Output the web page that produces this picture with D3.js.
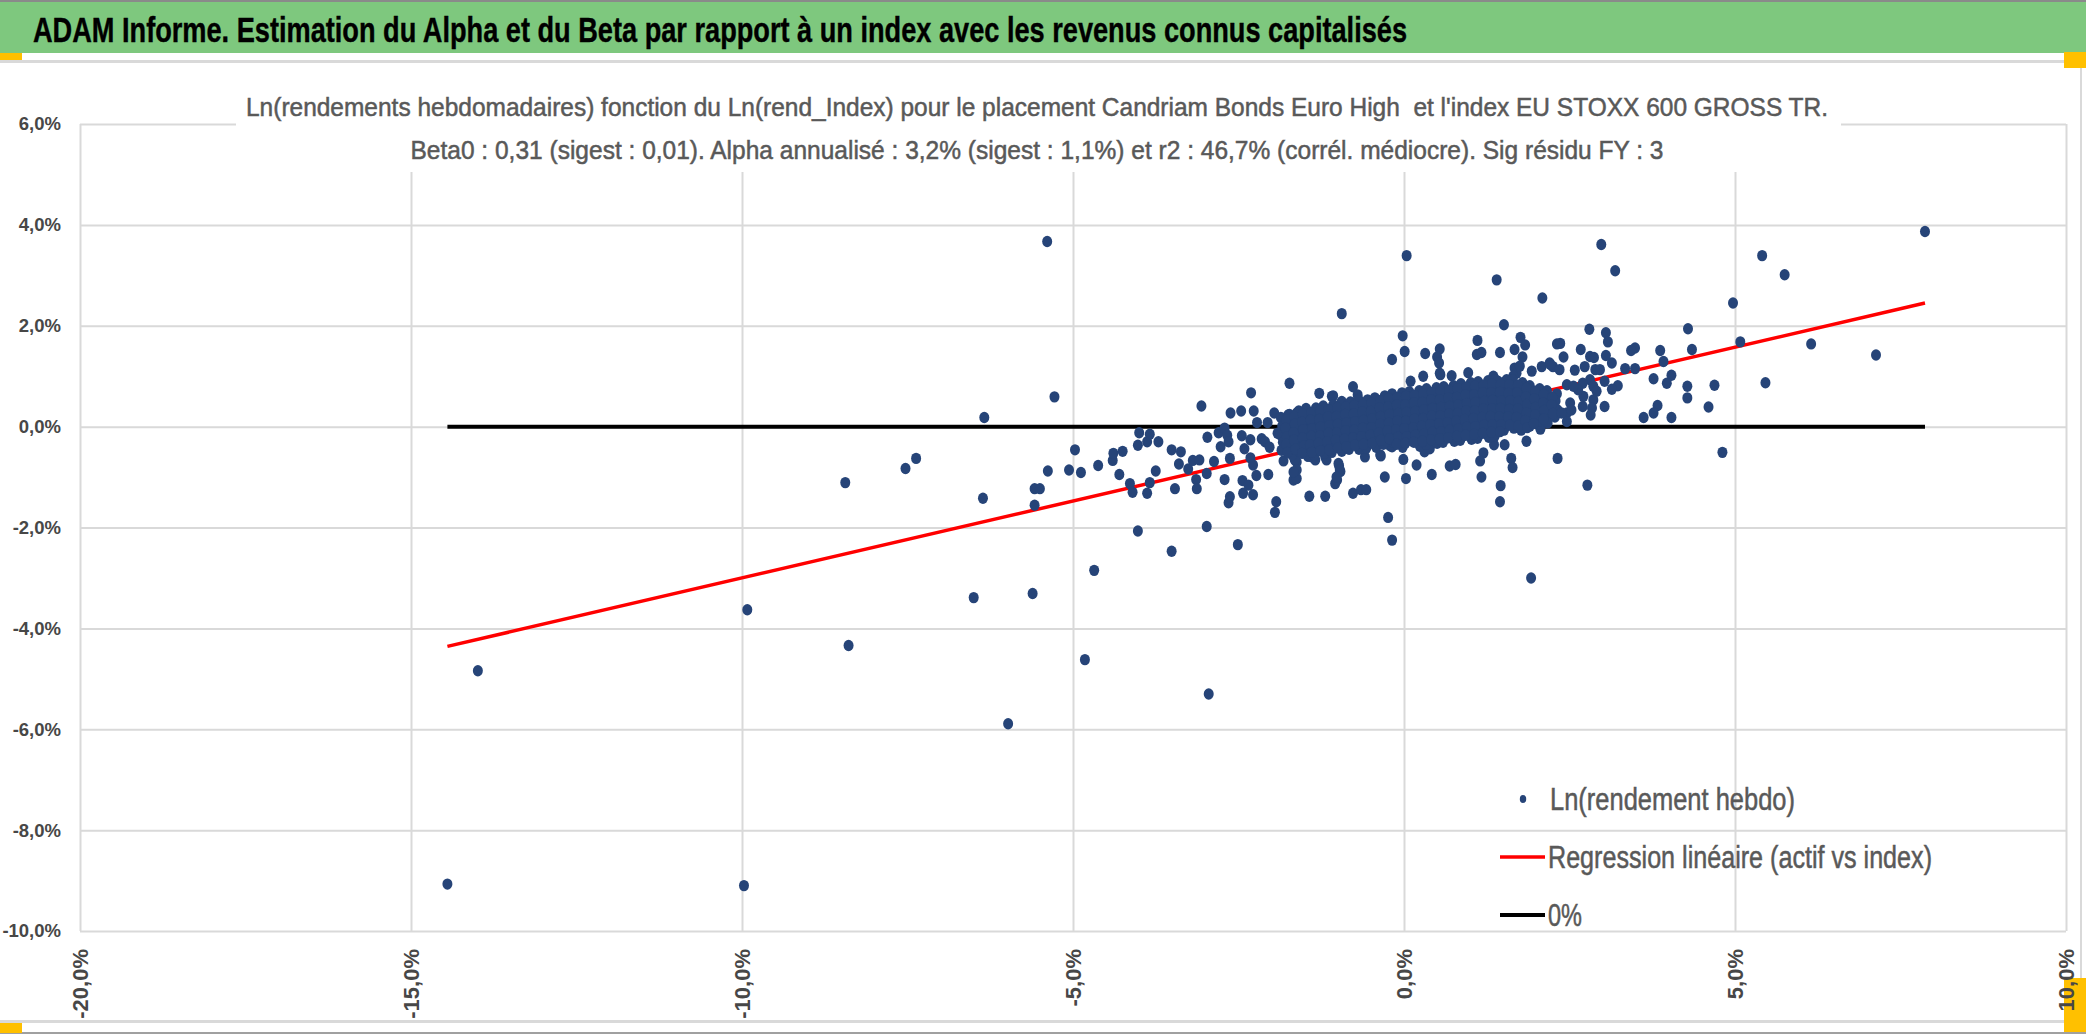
<!DOCTYPE html>
<html>
<head>
<meta charset="utf-8">
<script src="https://cdn.jsdelivr.net/npm/d3@7"></script>
<style>
  body { margin: 0; background: #fff; }
  svg { display: block; }
  text { white-space: pre; }
</style>
</head>
<body>
<div id="d3-container"></div>
<script>
// Texts
const headerTitle = "ADAM Informe. Estimation du Alpha et du Beta par rapport à un index avec les revenus connus capitalisés";
const chartTitle = [
    "Ln(rendements hebdomadaires) fonction du Ln(rend_Index) pour le placement Candriam Bonds Euro High  et l'index EU STOXX 600 GROSS TR.",
    "Beta0 : 0,31 (sigest : 0,01). Alpha annualisé : 3,2% (sigest : 1,1%) et r2 : 46,7% (corrél. médiocre). Sig résidu FY : 3"
];
const legendLabels = ["Ln(rendement hebdo)", "Regression linéaire (actif vs index)", "0%"];

// Axis ticks (percent)
const xTicks = [-20, -15, -10, -5, 0, 5, 10];
const yTicks = [-10, -8, -6, -4, -2, 0, 2, 4, 6];

// Regression (percent units)
const betaSlope = 0.305;
const alphaWeekly = 0.05;

// Weekly points [Ln(rend_Index) %, Ln(rendement) %]
const farPoints = [
    [-14.45,-9.07],[-13.99,-4.84],[-9.97,-9.10],[-9.92,-3.63],[-8.44,-1.11],[-8.39,-4.34],
    [-7.53,-0.83],[-7.37,-0.63],[-6.50,-3.39],[-6.36,-1.42],[-6.34,0.18],[-5.98,-5.89],
    [-5.61,-3.31],[-5.58,-1.23],[-5.50,-1.23],[-5.58,-1.56],[-5.39,3.67],[-5.38,-0.88],
    [-5.28,0.59],[-5.06,-0.86],[-4.97,-0.46],[-4.88,-0.91],[-4.82,-4.62],[-4.68,-2.85],
    [-4.62,-0.77],[-4.40,-0.67],[-4.39,-0.53],[-4.30,-0.95],[-4.25,-0.49],[-4.14,-1.13],
    [-4.10,-1.30],[-4.02,-0.37],[-4.02,-2.07],[-4.00,-0.12],[-3.88,-0.30],[-3.84,-0.15],
    [-3.71,-0.30],[-3.88,-1.32],[-3.84,-1.11],[-3.75,-0.88],[-3.51,-0.46],[-3.51,-2.47],
    [-3.46,-1.23],[-3.40,-0.74],[-3.37,-0.50],[-3.26,-0.84],[-3.19,-0.67],[-3.14,-1.05],
    [-3.13,-1.23],[-3.09,-0.66],[-3.06,0.41],[-2.98,-1.98],[-2.98,-0.93],[-2.97,-0.21],
    [-2.95,-5.30],[-2.87,-0.69],[-2.80,-0.12],[-2.77,-0.40],[-2.71,-0.03],[-2.71,-1.05],
    [-2.67,-0.17],[-2.65,-0.30],[-2.65,-1.51],[-2.63,-0.63],[-2.63,-1.39],[-2.62,0.27],
    [-2.51,-2.34],[-2.46,0.31],[-2.45,-0.18],[-2.44,-1.07],[-2.43,-1.32],[-2.41,-0.44],
    [-2.35,-1.16],[-2.32,-0.26],[-2.32,-0.62],[-2.31,0.67],[-2.28,-0.76],[-2.28,-1.35],
    [-2.27,0.31],[-2.23,-0.97],[-2.22,0.08],[-2.15,-0.24],[-2.10,-0.30],[-2.06,0.08],
    [-2.05,-0.95],[-2.03,-0.41],[-1.96,0.27],[-1.95,-1.70],[-1.93,-1.49],[-1.91,-0.13]
];

const midPoints = [
    [0.04,3.39],[1.40,2.91],[2.09,2.55],[-0.94,2.24],[1.51,2.02],[-0.02,1.80],[0.01,1.49],
    [1.11,1.71],[1.76,1.77],[1.83,1.62],[2.31,1.64],[2.20,1.26],[2.25,1.19],[2.35,1.13],
    [2.08,1.19],[2.32,-0.63],[1.92,-3.00],[2.06,-0.05],[1.85,-0.29],[1.52,-0.36],[1.36,-0.36],
    [1.20,-0.52],[1.15,-0.68],[1.17,-1.00],[1.46,-1.17],[1.45,-1.49],[1.62,-0.63],[1.64,-0.81],
    [0.69,-0.78],[0.78,-0.75],[0.42,-0.95],[0.19,-0.76],[0.31,-0.50],[0.39,-0.44],[-0.01,-0.65],
    [0.03,-1.03],[-0.18,-0.40],[-0.29,-1.00],[-0.24,-1.80],[-0.18,-2.25],[-0.77,-1.32],
    [-0.65,-1.25],[-0.57,-1.25],[-0.35,-0.58],[-0.59,-0.60],[-1.04,-1.13],[-1.01,-1.06],
    [-0.98,-0.78],[-0.96,-0.89],[-1.19,-1.38],[-1.43,-1.38],[-1.67,-1.06],[-1.62,-1.03],
    [-1.62,-0.70],[-1.82,-0.68],[-1.73,0.86],[-1.28,0.66],[-0.77,0.79],[-1.09,0.60],
    [-0.70,0.63],[-0.18,1.33],[0.10,0.90],[0.29,1.00],[0.32,1.45],[0.54,1.54],[0.50,1.38],
    [0.53,1.26],[0.55,1.03],[0.72,1.01],[0.97,1.07],[1.10,1.43],[1.17,1.47],[1.45,1.47],
    [1.67,1.53],[1.79,1.38],[1.67,1.16],[1.70,1.06],[1.65,1.00],[1.93,1.10],[2.77,-1.16],
    [-1.07,0.61],[-0.69,0.54],[-0.94,0.50],[-1.75,0.23],[-1.62,0.27],[-1.12,0.33],[0.54,1.06],
    [1.35,1.00],[1.42,0.90],[1.55,0.93],[1.75,1.20],[2.21,1.23],[2.46,0.83],[-0.19,-0.30],
    [-0.21,-0.38],[-0.36,-0.56],[-0.99,-0.73],[-0.97,-0.86],[-1.02,-1.00],[-1.19,-0.60],
    [-1.17,-0.66],[-1.39,-0.60],[-1.34,-0.66],[-1.65,-0.66],[-1.62,-0.86],[-1.67,-0.90]
];

const corePoints = [
    [-1.86,0.18],[-1.84,0.01],[-1.87,-0.16],[-1.83,-0.31],[-1.85,-0.47],
    [-1.73,0.24],[-1.70,0.07],[-1.74,-0.09],[-1.71,-0.25],[-1.72,-0.41],[-1.69,-0.56],
    [-1.59,0.31],[-1.61,0.13],[-1.58,-0.03],[-1.62,-0.19],[-1.60,-0.33],[-1.57,-0.51],
    [-1.48,0.36],[-1.46,0.19],[-1.49,0.01],[-1.45,-0.15],[-1.47,-0.31],[-1.48,-0.45],[-1.45,-0.59],
    [-1.33,0.37],[-1.35,0.21],[-1.32,0.03],[-1.36,-0.11],[-1.34,-0.29],[-1.33,-0.43],[-1.35,-0.57],
    [-1.22,0.41],[-1.20,0.23],[-1.23,0.09],[-1.19,-0.09],[-1.21,-0.23],[-1.22,-0.41],[-1.20,-0.53],
    [-1.07,0.43],[-1.09,0.26],[-1.06,0.12],[-1.10,-0.06],[-1.08,-0.20],[-1.07,-0.38],[-1.09,-0.51],
    [-0.96,0.45],[-0.94,0.31],[-0.97,0.13],[-0.93,-0.03],[-0.95,-0.19],[-0.96,-0.33],[-0.94,-0.49],
    [-0.81,0.49],[-0.83,0.31],[-0.80,0.17],[-0.84,-0.01],[-0.82,-0.15],[-0.81,-0.33],[-0.83,-0.45],
    [-0.70,0.51],[-0.68,0.34],[-0.71,0.20],[-0.67,0.02],[-0.69,-0.14],[-0.70,-0.28],[-0.68,-0.45],
    [-0.55,0.53],[-0.57,0.36],[-0.54,0.22],[-0.58,0.04],[-0.56,-0.12],[-0.55,-0.26],[-0.57,-0.43],
    [-0.44,0.57],[-0.42,0.39],[-0.45,0.25],[-0.41,0.07],[-0.43,-0.09],[-0.44,-0.23],[-0.42,-0.41],
    [-0.29,0.61],[-0.31,0.47],[-0.28,0.29],[-0.32,0.15],[-0.30,-0.03],[-0.29,-0.17],[-0.31,-0.35],
    [-0.18,0.65],[-0.16,0.47],[-0.19,0.33],[-0.15,0.15],[-0.17,0.01],[-0.18,-0.17],[-0.16,-0.31],
    [-0.03,0.67],[-0.05,0.49],[-0.02,0.35],[-0.06,0.17],[-0.04,0.03],[-0.03,-0.15],[-0.05,-0.29],[-0.02,-0.41],
    [0.08,0.69],[0.10,0.51],[0.07,0.37],[0.11,0.19],[0.09,0.05],[0.08,-0.13],[0.10,-0.27],
    [0.23,0.71],[0.21,0.53],[0.24,0.39],[0.20,0.21],[0.22,0.07],[0.23,-0.11],[0.21,-0.25],[0.24,-0.39],
    [0.34,0.75],[0.36,0.57],[0.33,0.43],[0.37,0.25],[0.35,0.11],[0.34,-0.07],[0.36,-0.21],[0.33,-0.35],
    [0.49,0.77],[0.47,0.59],[0.50,0.45],[0.46,0.27],[0.48,0.13],[0.49,-0.05],[0.47,-0.19],[0.50,-0.33],
    [0.60,0.79],[0.62,0.61],[0.59,0.47],[0.63,0.29],[0.61,0.15],[0.60,-0.03],[0.62,-0.17],[0.59,-0.31],
    [0.75,0.81],[0.73,0.63],[0.76,0.49],[0.72,0.31],[0.74,0.17],[0.75,-0.01],[0.73,-0.15],[0.76,-0.29],
    [0.86,0.85],[0.88,0.67],[0.85,0.53],[0.89,0.35],[0.87,0.21],[0.86,0.03],[0.88,-0.11],[0.85,-0.27],
    [1.01,0.87],[0.99,0.69],[1.02,0.55],[0.98,0.37],[1.00,0.23],[1.01,0.05],[0.99,-0.09],[1.02,-0.25],
    [1.12,0.89],[1.14,0.71],[1.11,0.57],[1.15,0.39],[1.13,0.25],[1.12,0.07],[1.14,-0.07],[1.11,-0.23],
    [1.27,0.91],[1.25,0.73],[1.28,0.59],[1.24,0.41],[1.26,0.27],[1.27,0.09],[1.25,-0.05],[1.28,-0.21],
    [1.38,0.93],[1.40,0.75],[1.37,0.61],[1.41,0.43],[1.39,0.29],[1.38,0.11],[1.40,-0.03],[1.37,-0.19],
    [1.53,0.89],[1.51,0.75],[1.54,0.57],[1.50,0.43],[1.52,0.25],[1.53,0.11],[1.51,-0.07],
    [1.64,0.93],[1.66,0.75],[1.63,0.61],[1.67,0.43],[1.65,0.29],[1.64,0.11],[1.66,-0.03],
    [1.79,0.87],[1.77,0.73],[1.80,0.55],[1.76,0.41],[1.78,0.23],[1.79,0.09],[1.77,-0.07],
    [1.90,0.81],[1.92,0.63],[1.89,0.49],[1.93,0.31],[1.91,0.17],[1.90,0.01],
    [2.05,0.75],[2.03,0.61],[2.06,0.43],[2.02,0.29],[2.04,0.11],
    [2.16,0.71],[2.18,0.53],[2.15,0.39],[2.19,0.21],[2.17,0.07],
    [2.31,0.65],[2.29,0.51],[2.32,0.33],[2.28,0.19]
];

// points lying between the rows of the dense band
const coreFillPoints = [
    [-1.78,0.13],[-1.79,-0.03],[-1.77,-0.20],[-1.78,-0.35],[-1.76,-0.51],
    [-1.66,0.20],[-1.65,0.05],[-1.67,-0.12],[-1.66,-0.27],[-1.64,-0.45],
    [-1.53,0.25],[-1.54,0.09],[-1.52,-0.06],[-1.53,-0.23],[-1.51,-0.38],[-1.54,-0.53],
    [-1.40,0.28],[-1.41,0.13],[-1.39,-0.04],[-1.40,-0.19],[-1.42,-0.36],[-1.39,-0.51],
    [-1.27,0.31],[-1.28,0.14],[-1.26,-0.01],[-1.27,-0.18],[-1.29,-0.33],[-1.26,-0.48],
    [-1.14,0.34],[-1.15,0.19],[-1.13,0.02],[-1.14,-0.13],[-1.16,-0.30],[-1.13,-0.46],
    [-1.01,0.37],[-1.02,0.20],[-1.00,0.05],[-1.01,-0.12],[-1.03,-0.27],[-1.00,-0.42],
    [-0.88,0.39],[-0.89,0.24],[-0.87,0.07],[-0.88,-0.08],[-0.90,-0.25],[-0.87,-0.40],
    [-0.75,0.42],[-0.76,0.25],[-0.74,0.10],[-0.75,-0.07],[-0.77,-0.22],[-0.74,-0.37],
    [-0.62,0.44],[-0.63,0.29],[-0.61,0.12],[-0.62,-0.03],[-0.64,-0.20],[-0.61,-0.35],
    [-0.49,0.47],[-0.50,0.30],[-0.48,0.15],[-0.49,-0.02],[-0.51,-0.17],[-0.48,-0.33],
    [-0.36,0.52],[-0.37,0.37],[-0.35,0.20],[-0.36,0.05],[-0.38,-0.12],[-0.35,-0.27],
    [-0.23,0.56],[-0.24,0.39],[-0.22,0.24],[-0.23,0.07],[-0.25,-0.08],[-0.22,-0.24],
    [-0.10,0.58],[-0.11,0.43],[-0.09,0.26],[-0.10,0.11],[-0.12,-0.06],[-0.09,-0.21],[-0.11,-0.35],
    [0.03,0.60],[0.02,0.43],[0.04,0.28],[0.03,0.11],[0.01,-0.04],[0.04,-0.20],[0.02,-0.33],
    [0.16,0.62],[0.15,0.47],[0.17,0.30],[0.16,0.15],[0.14,-0.02],[0.17,-0.17],[0.15,-0.31],
    [0.29,0.65],[0.28,0.48],[0.30,0.33],[0.29,0.16],[0.27,0.01],[0.30,-0.15],[0.28,-0.29],
    [0.42,0.68],[0.41,0.53],[0.43,0.36],[0.42,0.21],[0.40,0.04],[0.43,-0.11],[0.41,-0.26],
    [0.55,0.70],[0.54,0.53],[0.56,0.38],[0.55,0.21],[0.53,0.06],[0.56,-0.10],[0.54,-0.24],
    [0.68,0.72],[0.67,0.57],[0.69,0.40],[0.68,0.25],[0.66,0.08],[0.69,-0.07],[0.67,-0.22],
    [0.81,0.75],[0.80,0.58],[0.82,0.43],[0.81,0.26],[0.79,0.11],[0.82,-0.05],[0.80,-0.19],
    [0.94,0.78],[0.93,0.63],[0.95,0.46],[0.94,0.31],[0.92,0.14],[0.95,-0.01],[0.93,-0.17],
    [1.07,0.80],[1.06,0.63],[1.08,0.48],[1.07,0.31],[1.05,0.16],[1.08,0.00],[1.06,-0.15],
    [1.20,0.82],[1.19,0.67],[1.21,0.50],[1.20,0.35],[1.18,0.18],[1.21,0.03],[1.19,-0.13],
    [1.33,0.84],[1.32,0.67],[1.34,0.52],[1.33,0.35],[1.31,0.20],[1.34,0.04],[1.32,-0.11],
    [1.46,0.83],[1.45,0.68],[1.47,0.51],[1.46,0.36],[1.44,0.19],[1.47,0.04],[1.45,-0.10],
    [1.59,0.83],[1.58,0.66],[1.60,0.51],[1.59,0.34],[1.57,0.19],[1.60,0.03],
    [1.72,0.82],[1.71,0.67],[1.73,0.50],[1.72,0.35],[1.70,0.18],[1.73,0.02],
    [1.85,0.76],[1.84,0.59],[1.86,0.44],[1.85,0.27],[1.83,0.12],[1.86,-0.02],
    [1.98,0.70],[1.97,0.55],[1.99,0.38],[1.98,0.23],[1.96,0.06],
    [2.11,0.64],[2.10,0.47],[2.12,0.32],[2.11,0.15],
    [2.24,0.58],[2.23,0.43],[2.25,0.26]
];

const rightPoints = [
    [7.87,3.87],[2.98,3.61],[3.19,3.09],[5.41,3.39],[5.75,3.01],[4.97,2.45],[5.08,1.68],
    [6.15,1.64],[7.13,1.42],[5.46,0.87],[4.81,-0.51],[4.29,1.94],[4.35,1.53],[4.69,0.82],
    [4.60,0.39],[4.28,0.80],[4.28,0.57],[4.04,1.02],[3.97,0.86],[3.92,1.29],[3.87,1.51],
    [3.77,0.95],[3.83,0.42],[3.77,0.27],[3.62,0.18],[4.04,0.18],[3.49,1.56],[3.43,1.51],
    [3.49,1.15],[3.34,1.15],[3.23,0.81],[3.14,0.74],[3.14,1.26],[3.05,1.86],[3.08,1.68],
    [3.05,1.41],[2.80,1.93],[2.67,1.53],[2.81,1.39],[2.87,1.37],[2.73,1.19],[2.58,1.12],
    [2.89,1.13],[2.96,1.13],[2.41,1.38],[2.36,1.65],[3.03,0.90],[3.03,0.40],[2.81,0.93],
    [2.86,0.80],[2.91,0.70],[2.86,0.53],[2.84,0.37],[2.82,0.23],[2.70,0.86],[2.71,0.60],
    [2.70,0.40],[2.63,0.73],[2.56,0.80],[2.51,0.47],[2.46,0.27],[2.46,0.10],[2.38,0.27],
    [2.53,0.33]
];

function drawChart() {
    d3.select("#d3-container").selectAll("*").remove();

    const width = 2086;
    const height = 1035;
    const plot = { left: 80, right: 2066, top: 124, bottom: 931 };
    const points = farPoints.concat(midPoints, corePoints, coreFillPoints, rightPoints);
    const grey = "#595959";
    const axisGrey = "#474747";
    const narrow = "'Liberation Sans Narrow', 'Liberation Sans', Arial, sans-serif";

    const svg = d3.select("#d3-container")
        .append("svg")
        .attr("width", width)
        .attr("height", height);

    // header band
    svg.append("rect").attr("x", 0).attr("y", 0).attr("width", width).attr("height", 53).attr("fill", "#7ec87e");
    svg.append("line").attr("x1", 0).attr("x2", width).attr("y1", 1).attr("y2", 1)
        .attr("stroke", "#8a8a8a").attr("stroke-width", 2);
    svg.append("text")
        .attr("x", 33).attr("y", 42)
        .attr("font-family", narrow)
        .attr("font-weight", 700).attr("font-size", 35)
        .attr("textLength", 1374).attr("lengthAdjust", "spacingAndGlyphs")
        .attr("fill", "#000").attr("stroke", "#000").attr("stroke-width", 0.4)
        .text(headerTitle);

    // sheet borders and handles
    svg.append("line").attr("x1", 0).attr("x2", width).attr("y1", 61.5).attr("y2", 61.5)
        .attr("stroke", "#d9d9d9").attr("stroke-width", 3);
    svg.append("line").attr("x1", 0).attr("x2", width).attr("y1", 1021.5).attr("y2", 1021.5)
        .attr("stroke", "#d9d9d9").attr("stroke-width", 3);
    svg.append("line").attr("x1", 0).attr("x2", width).attr("y1", 1033).attr("y2", 1033)
        .attr("stroke", "#a0a0a0").attr("stroke-width", 2);
    svg.append("line").attr("x1", 2081).attr("x2", 2081).attr("y1", 62).attr("y2", 1021)
        .attr("stroke", "#d9d9d9").attr("stroke-width", 2);
    const handles = [[0, 53, 22, 7], [2064, 52, 22, 16], [0, 1023, 22, 10], [2064, 978, 22, 54]];
    svg.append("g").selectAll("rect").data(handles).join("rect")
        .attr("x", d => d[0]).attr("y", d => d[1]).attr("width", d => d[2]).attr("height", d => d[3])
        .attr("fill", "#ffc000");

    // scales
    const x = d3.scaleLinear().domain([-20, 10]).range([plot.left, plot.right]);
    const y = d3.scaleLinear().domain([-10, 6]).range([plot.bottom, plot.top]);
    const pct = d => d.toFixed(1).replace(".", ",") + "%";

    // grid
    function styleGrid(g) {
        g.select(".domain").remove();
        g.selectAll("line").attr("stroke", "#d9d9d9").attr("stroke-width", 2);
    }
    svg.append("g")
        .attr("transform", `translate(0,${plot.bottom})`)
        .call(d3.axisBottom(x).tickValues(xTicks).tickSize(-(plot.bottom - plot.top)).tickFormat(""))
        .call(styleGrid);
    svg.append("g")
        .attr("transform", `translate(${plot.left},0)`)
        .call(d3.axisLeft(y).tickValues(yTicks).tickSize(-(plot.right - plot.left)).tickFormat(""))
        .call(styleGrid);

    // title box covers the top of the grid
    svg.append("rect").attr("x", 236).attr("y", 90).attr("width", 1841 - 236).attr("height", 172 - 90)
        .attr("fill", "#fff");
    const titleWidths = [1582, 1253];
    svg.append("g").selectAll("text").data(chartTitle).join("text")
        .attr("x", 1037).attr("y", (d, i) => 116 + i * 43)
        .attr("text-anchor", "middle")
        .attr("font-family", narrow)
        .attr("font-size", 25.5)
        .attr("textLength", (d, i) => titleWidths[i]).attr("lengthAdjust", "spacingAndGlyphs")
        .attr("fill", grey).attr("stroke", grey).attr("stroke-width", 0.5)
        .text(d => d);

    // y tick labels
    svg.append("g")
        .attr("transform", "translate(61,0)")
        .call(d3.axisLeft(y).tickValues(yTicks).tickSize(0).tickPadding(0).tickFormat(pct))
        .call(g => g.select(".domain").remove())
        .selectAll("text")
            .attr("font-family", "'Liberation Sans', Arial, sans-serif")
            .attr("font-weight", 700)
            .attr("font-size", 18.5)
            .attr("fill", axisGrey);

    // x tick labels, rotated
    svg.append("g")
        .attr("transform", "translate(0,949)")
        .call(d3.axisBottom(x).tickValues(xTicks).tickSize(0).tickPadding(0).tickFormat(pct))
        .call(g => g.select(".domain").remove())
        .selectAll("text")
            .attr("transform", "rotate(-90)")
            .attr("text-anchor", "end")
            .attr("x", 0).attr("y", 0).attr("dy", "0.35em")
            .attr("font-family", "'Liberation Sans', Arial, sans-serif")
            .attr("font-weight", 700)
            .attr("font-size", 22)
            .attr("fill", axisGrey);

    // zero line and regression line over the data range
    const xExt = d3.extent(points, d => d[0]);
    const line = d3.line().x(d => x(d[0])).y(d => y(d[1]));
    svg.append("path")
        .datum(xExt.map(v => [v, 0]))
        .attr("d", line).attr("fill", "none").attr("stroke", "#000").attr("stroke-width", 4);
    svg.append("path")
        .datum(xExt.map(v => [v, alphaWeekly + betaSlope * v]))
        .attr("d", line).attr("fill", "none").attr("stroke", "#ff0000").attr("stroke-width", 3.5);

    // points
    svg.append("g")
        .attr("fill", "#264478")
        .selectAll("ellipse")
        .data(points)
        .join("ellipse")
        .attr("cx", d => x(d[0]))
        .attr("cy", d => y(d[1]))
        .attr("rx", 5)
        .attr("ry", 5.7);

    // legend
    const legend = svg.append("g");
    legend.append("ellipse").attr("cx", 1523).attr("cy", 799).attr("rx", 3.2).attr("ry", 3.9).attr("fill", "#264478");
    legend.append("line").attr("x1", 1500).attr("x2", 1545).attr("y1", 857).attr("y2", 857)
        .attr("stroke", "#ff0000").attr("stroke-width", 3.5);
    legend.append("line").attr("x1", 1500).attr("x2", 1545).attr("y1", 915).attr("y2", 915)
        .attr("stroke", "#000").attr("stroke-width", 4);
    const legendPos = [[1550, 810, 245], [1548, 868, 384], [1548, 926, 34]];
    legend.selectAll("text").data(legendLabels).join("text")
        .attr("x", (d, i) => legendPos[i][0])
        .attr("y", (d, i) => legendPos[i][1])
        .attr("textLength", (d, i) => legendPos[i][2]).attr("lengthAdjust", "spacingAndGlyphs")
        .attr("font-family", narrow)
        .attr("font-size", 31)
        .attr("fill", grey).attr("stroke", grey).attr("stroke-width", 0.5)
        .text(d => d);

    svg.node();
}

drawChart();
</script>
</body>
</html>
